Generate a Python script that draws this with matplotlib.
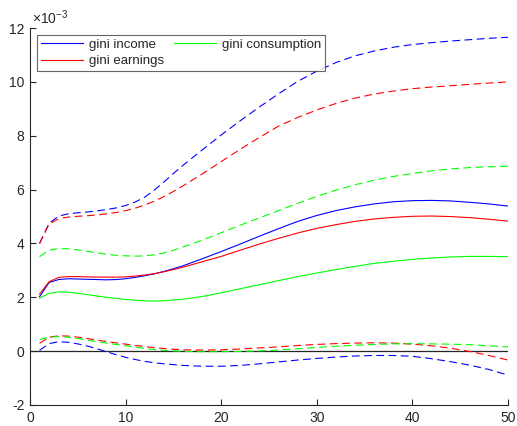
import matplotlib
matplotlib.use("Agg")
import matplotlib.pyplot as plt
from matplotlib.lines import Line2D

plt.rcParams["font.family"] = ["Liberation Sans", "DejaVu Sans"]
plt.rcParams["mathtext.fontset"] = "custom"
plt.rcParams["mathtext.rm"] = "Liberation Sans"
plt.rcParams["mathtext.it"] = "Liberation Sans"

# Horizon (periods) and responses of the Gini coefficients, in units of 1e-3
periods = [1, 2, 3, 4, 5, 6, 7, 8, 9, 10, 11, 12, 13, 14, 15, 16,
           18, 20, 22, 24, 26, 28, 30, 32, 34, 36, 38, 40, 42, 44, 46, 48, 50]

gini_income = [2.02, 2.55, 2.66, 2.69, 2.68, 2.67, 2.66, 2.65, 2.66, 2.69,
               2.74, 2.80, 2.87, 2.96, 3.06, 3.17,
               3.43, 3.70, 3.98, 4.27, 4.55, 4.82, 5.04, 5.22, 5.36, 5.47,
               5.55, 5.59, 5.60, 5.58, 5.53, 5.47, 5.39]
gini_income_hi = [4.00, 4.75, 5.02, 5.10, 5.14, 5.17, 5.21, 5.26, 5.32, 5.41,
                  5.54, 5.72, 5.98, 6.28, 6.60, 6.90,
                  7.47, 8.03, 8.56, 9.07, 9.56, 10.02, 10.40, 10.72, 10.97,
                  11.15, 11.29, 11.39, 11.46, 11.52, 11.57, 11.62, 11.66]
gini_income_lo = [0.03, 0.28, 0.35, 0.33, 0.27, 0.19, 0.09, -0.02, -0.13,
                  -0.23, -0.31, -0.38, -0.43, -0.47, -0.50, -0.53,
                  -0.56, -0.56, -0.53, -0.47, -0.40, -0.33, -0.27, -0.22,
                  -0.18, -0.16, -0.16, -0.19, -0.28, -0.39, -0.52, -0.68,
                  -0.89]

gini_earnings = [2.12, 2.58, 2.74, 2.77, 2.77, 2.76, 2.75, 2.75, 2.75, 2.76,
                 2.79, 2.83, 2.88, 2.95, 3.03, 3.12,
                 3.32, 3.52, 3.75, 3.98, 4.19, 4.39, 4.56, 4.70, 4.82, 4.91,
                 4.97, 5.01, 5.02, 5.00, 4.96, 4.90, 4.83]
gini_earnings_hi = [4.00, 4.72, 4.92, 4.98, 5.01, 5.03, 5.06, 5.10, 5.15,
                    5.22, 5.31, 5.43, 5.57, 5.74, 5.93, 6.14,
                    6.58, 7.04, 7.50, 7.94, 8.36, 8.68, 8.96, 9.20, 9.40,
                    9.55, 9.66, 9.75, 9.81, 9.86, 9.91, 9.96, 10.00]
gini_earnings_lo = [0.29, 0.52, 0.57, 0.56, 0.52, 0.47, 0.41, 0.36, 0.31,
                    0.26, 0.21, 0.17, 0.13, 0.10, 0.07, 0.05,
                    0.04, 0.05, 0.08, 0.12, 0.16, 0.21, 0.25, 0.28, 0.30,
                    0.31, 0.30, 0.26, 0.20, 0.11, -0.01, -0.16, -0.33]

gini_consumption = [1.97, 2.15, 2.20, 2.19, 2.15, 2.10, 2.05, 2.00, 1.96,
                    1.92, 1.89, 1.87, 1.86, 1.87, 1.90, 1.93,
                    2.03, 2.17, 2.32, 2.47, 2.62, 2.77, 2.90, 3.03, 3.15,
                    3.26, 3.34, 3.41, 3.46, 3.50, 3.52, 3.52, 3.51]
gini_consumption_hi = [3.51, 3.75, 3.81, 3.80, 3.76, 3.71, 3.65, 3.60, 3.56,
                       3.54, 3.53, 3.54, 3.58, 3.65, 3.75, 3.87,
                       4.12, 4.40, 4.68, 4.95, 5.22, 5.49, 5.75, 5.98, 6.18,
                       6.35, 6.49, 6.60, 6.70, 6.77, 6.82, 6.85, 6.87]
gini_consumption_lo = [0.43, 0.52, 0.54, 0.52, 0.47, 0.41, 0.35, 0.30, 0.25,
                       0.20, 0.15, 0.10, 0.06, 0.03, 0.01, -0.01,
                       -0.02, -0.02, -0.01, 0.01, 0.04, 0.09, 0.14, 0.18,
                       0.22, 0.25, 0.27, 0.28, 0.27, 0.26, 0.24, 0.20, 0.16]

x_ticks = [0, 10, 20, 30, 40, 50]
y_ticks = [-2, 0, 2, 4, 6, 8, 10, 12]

blue, red, green = (0.0, 0.0, 1.0), (1.0, 0.0, 0.0), (0.0, 1.0, 0.0)
lw = 0.8
dash = (0, (7.0, 4.0))

fig = plt.figure(figsize=(5.17, 4.26), dpi=100)
ax = fig.add_axes([0.058, 0.0493, 0.9245, 0.8847])

ax.axhline(0, color="0.15", lw=0.9, zorder=1)

ax.plot(periods, gini_income, color=blue, lw=lw)
ax.plot(periods, gini_earnings, color=red, lw=lw)
ax.plot(periods, gini_consumption, color=green, lw=lw)

for hi, lo, c in [(gini_income_hi, gini_income_lo, blue),
                  (gini_earnings_hi, gini_earnings_lo, red),
                  (gini_consumption_hi, gini_consumption_lo, green)]:
    ax.plot(periods, hi, color=c, lw=lw, linestyle=dash)
    ax.plot(periods, lo, color=c, lw=lw, linestyle=dash)

ax.set_xlim(0, 50)
ax.set_ylim(-2, 12)
ax.set_xticks(x_ticks)
ax.set_yticks(y_ticks)
ax.set_xticklabels([str(t) for t in x_ticks])
ax.set_yticklabels([str(t) for t in y_ticks])

for side in ("top", "right"):
    ax.spines[side].set_visible(False)
for side in ("left", "bottom"):
    ax.spines[side].set_color("0.15")
    ax.spines[side].set_linewidth(0.8)
ax.tick_params(direction="in", length=4, width=0.8, color="0.15",
               labelcolor="0.15", labelsize=10, pad=4)

ax.text(0.005, 1.003, r"$\times10^{-3}$", transform=ax.transAxes,
        ha="left", va="bottom", fontsize=10, color="0.15")

handles = [Line2D([], [], color=blue, lw=lw),
           Line2D([], [], color=red, lw=lw),
           Line2D([], [], color=green, lw=lw)]
leg = ax.legend(handles, ["gini income", "gini earnings", "gini consumption"],
                ncol=2, loc="upper left", bbox_to_anchor=(0.0146, 0.982),
                fontsize=9.5, frameon=True, fancybox=False, handlelength=3.2,
                handletextpad=0.45, columnspacing=0.75, labelspacing=0.3,
                borderpad=0.3, borderaxespad=0)
leg.get_frame().set_edgecolor("0.25")
leg.get_frame().set_linewidth(0.8)
for t in leg.get_texts():
    t.set_color("0.15")

fig.savefig("out.png", dpi=100)
